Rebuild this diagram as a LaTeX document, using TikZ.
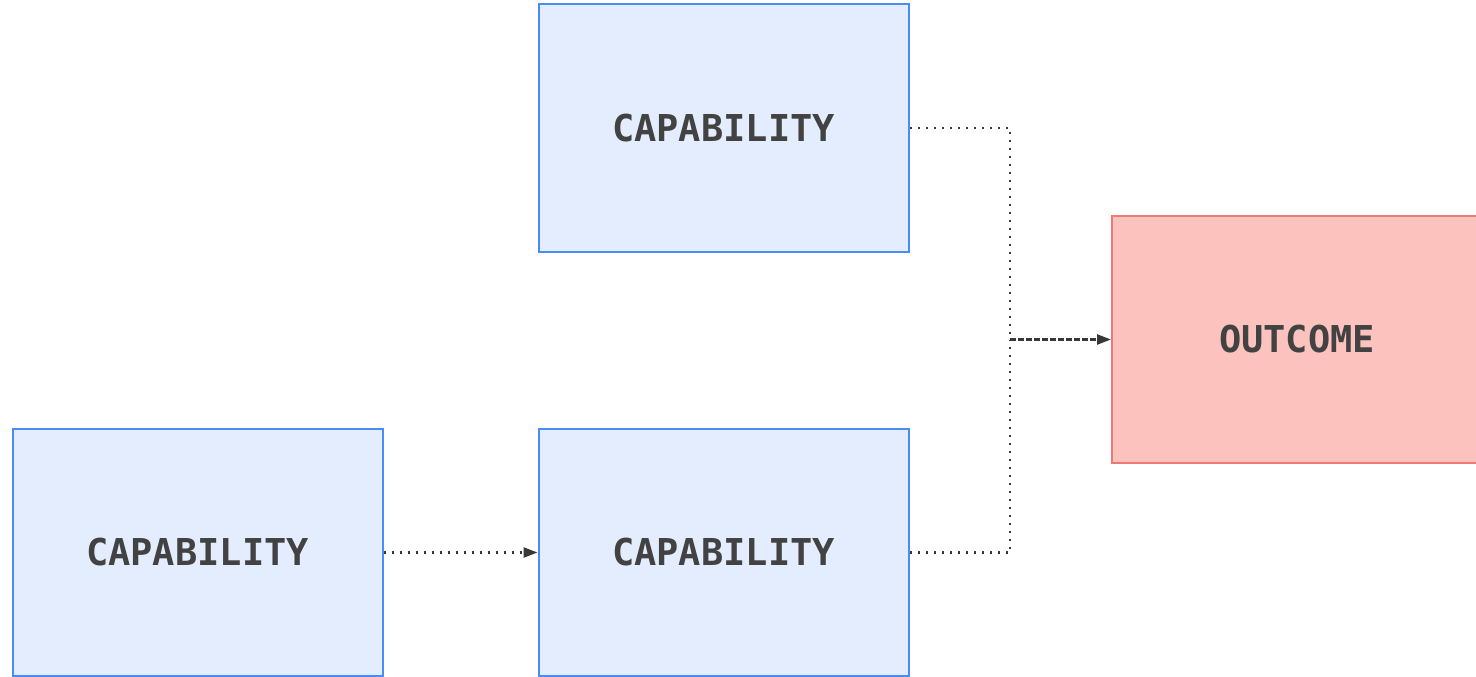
\documentclass[tikz,border=0pt]{standalone}
\usepackage{fontspec}
\setmonofont{DejaVu Sans Mono}
\usetikzlibrary{arrows.meta}
\definecolor{capfill}{HTML}{E3EDFD}
\definecolor{capline}{HTML}{4A8CF6}
\definecolor{outfill}{HTML}{FBC2BE}
\definecolor{outline}{HTML}{EE7A73}
\definecolor{ink}{HTML}{424242}
\definecolor{wire}{HTML}{383838}
\tikzset{
  box/.style={rectangle, minimum width=370pt, minimum height=247pt,
    line width=2pt, text=ink, font=\ttfamily\bfseries\fontsize{37pt}{40pt}\selectfont},
  capbox/.style={box, draw=capline, fill=capfill},
  outbox/.style={box, draw=outline, fill=outfill},
  link/.style={draw=wire, line width=2.4pt, dash pattern=on 2.4pt off 5.6pt},
  joined/.style={draw=wire, line width=2.4pt, dash pattern=on 5.5pt off 2.5pt},
  tip/.style={-{Triangle[length=14pt, width=10pt]}}
}
\begin{document}
\begin{tikzpicture}[x=1pt, y=-1pt]
  \useasboundingbox (0,0) rectangle (1476,677);
  \clip (0,0) rectangle (1476,677);
  \fill[white] (0,0) rectangle (1476,677);

  % capability boxes and the outcome box
  \node[capbox] (top) at (723.5,128) {CAPABILITY};
  \node[capbox] (left) at (197.5,552.5) {CAPABILITY};
  \node[capbox] (mid) at (723.5,552.5) {CAPABILITY};
  \node[outbox] (out) at (1297,339.5) {OUTCOME};

  % junction where the two upper-level links meet
  \coordinate (j) at (1010,339.5);

  % connectors
  \draw[link, tip] (left.east) -- (mid.west);
  \draw[link] (top.east) -| (j);
  \draw[link] (mid.east) -| (j);
  \draw[joined, tip] (j) -- (out.west);
\end{tikzpicture}
\end{document}
